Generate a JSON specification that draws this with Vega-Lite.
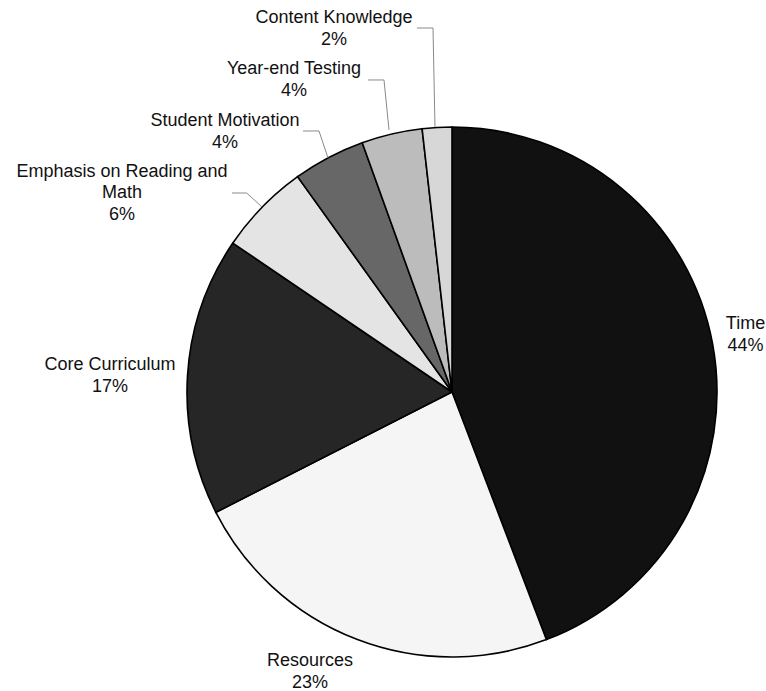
{
  "$schema": "https://vega.github.io/schema/vega-lite/v6.json",
  "width": 766,
  "height": 691,
  "padding": 0,
  "autosize": {"type": "none"},
  "background": "white",
  "config": {"view": {"stroke": null}},
  "datasets": {
    "slices": [
      {"idx": 1, "category": "Time", "share": 44.2, "label": "Time\n44%", "lx": 1.1075, "ly": 0.2557},
      {"idx": 2, "category": "Resources", "share": 23.3, "label": "Resources\n23%", "lx": -0.5358, "ly": -1.0160},
      {"idx": 3, "category": "Core Curriculum", "share": 17.0, "label": "Core Curriculum\n17%", "lx": -1.2906, "ly": 0.1010},
      {"idx": 4, "category": "Emphasis on Reading and Math", "share": 5.6, "label": "Emphasis on Reading and\nMath\n6%", "lx": -1.2453, "ly": 0.8320},
      {"idx": 5, "category": "Student Motivation", "share": 4.4, "label": "Student Motivation\n4%", "lx": -0.8566, "ly": 1.0217},
      {"idx": 6, "category": "Year-end Testing", "share": 3.7, "label": "Year-end Testing\n4%", "lx": -0.5962, "ly": 1.2180},
      {"idx": 7, "category": "Content Knowledge", "share": 1.8, "label": "Content Knowledge\n2%", "lx": -0.4453, "ly": 1.4104}
    ],
    "leaders": [
      {"category": "Emphasis on Reading and Math", "pt": 1, "lx": -0.8302, "ly": 0.7509},
      {"category": "Emphasis on Reading and Math", "pt": 2, "lx": -0.7747, "ly": 0.7509},
      {"category": "Emphasis on Reading and Math", "pt": 3, "lx": -0.7181, "ly": 0.6992},
      {"category": "Student Motivation", "pt": 1, "lx": -0.5623, "ly": 0.9849},
      {"category": "Student Motivation", "pt": 2, "lx": -0.5019, "ly": 0.9849},
      {"category": "Student Motivation", "pt": 3, "lx": -0.4679, "ly": 0.8830},
      {"category": "Year-end Testing", "pt": 1, "lx": -0.3170, "ly": 1.1774},
      {"category": "Year-end Testing", "pt": 2, "lx": -0.2566, "ly": 1.1774},
      {"category": "Year-end Testing", "pt": 3, "lx": -0.2377, "ly": 0.9887},
      {"category": "Content Knowledge", "pt": 1, "lx": -0.1321, "ly": 1.3736},
      {"category": "Content Knowledge", "pt": 2, "lx": -0.0717, "ly": 1.3736},
      {"category": "Content Knowledge", "pt": 3, "lx": -0.0642, "ly": 1.0}
    ]
  },
  "layer": [
    {
      "data": {"name": "slices"},
      "mark": {"type": "arc", "outerRadius": 265, "stroke": "#000000", "strokeWidth": 1.6},
      "encoding": {
        "x": {"datum": 0, "type": "quantitative", "scale": {"domain": [-1.7057, 1.1849], "nice": false, "zero": false}, "axis": null},
        "y": {"datum": 0, "type": "quantitative", "scale": {"domain": [-1.1283, 1.4792], "nice": false, "zero": false}, "axis": null},
        "theta": {"field": "share", "type": "quantitative", "stack": true},
        "order": {"field": "idx", "type": "quantitative"},
        "color": {
          "field": "category",
          "type": "nominal",
          "scale": {
            "domain": ["Time", "Resources", "Core Curriculum", "Emphasis on Reading and Math", "Student Motivation", "Year-end Testing", "Content Knowledge"],
            "range": ["#111111", "#f5f5f5", "#262626", "#e4e4e4", "#676767", "#bcbcbc", "#d7d7d7"]
          },
          "legend": null
        }
      }
    },
    {
      "data": {"name": "leaders"},
      "mark": {"type": "line", "stroke": "#8a8a8a", "strokeWidth": 1},
      "encoding": {
        "x": {"field": "lx", "type": "quantitative", "scale": {"domain": [-1.7057, 1.1849], "nice": false, "zero": false}, "axis": null},
        "y": {"field": "ly", "type": "quantitative", "scale": {"domain": [-1.1283, 1.4792], "nice": false, "zero": false}, "axis": null},
        "detail": {"field": "category", "type": "nominal"},
        "order": {"field": "pt", "type": "quantitative"}
      }
    },
    {
      "data": {"name": "slices"},
      "mark": {"type": "text", "font": "Liberation Sans", "fontSize": 18, "lineBreak": "\n", "lineHeight": 21.5, "align": "center", "baseline": "middle", "color": "#111111"},
      "encoding": {
        "x": {"field": "lx", "type": "quantitative", "scale": {"domain": [-1.7057, 1.1849], "nice": false, "zero": false}, "axis": null},
        "y": {"field": "ly", "type": "quantitative", "scale": {"domain": [-1.1283, 1.4792], "nice": false, "zero": false}, "axis": null},
        "text": {"field": "label", "type": "nominal"}
      }
    }
  ]
}
